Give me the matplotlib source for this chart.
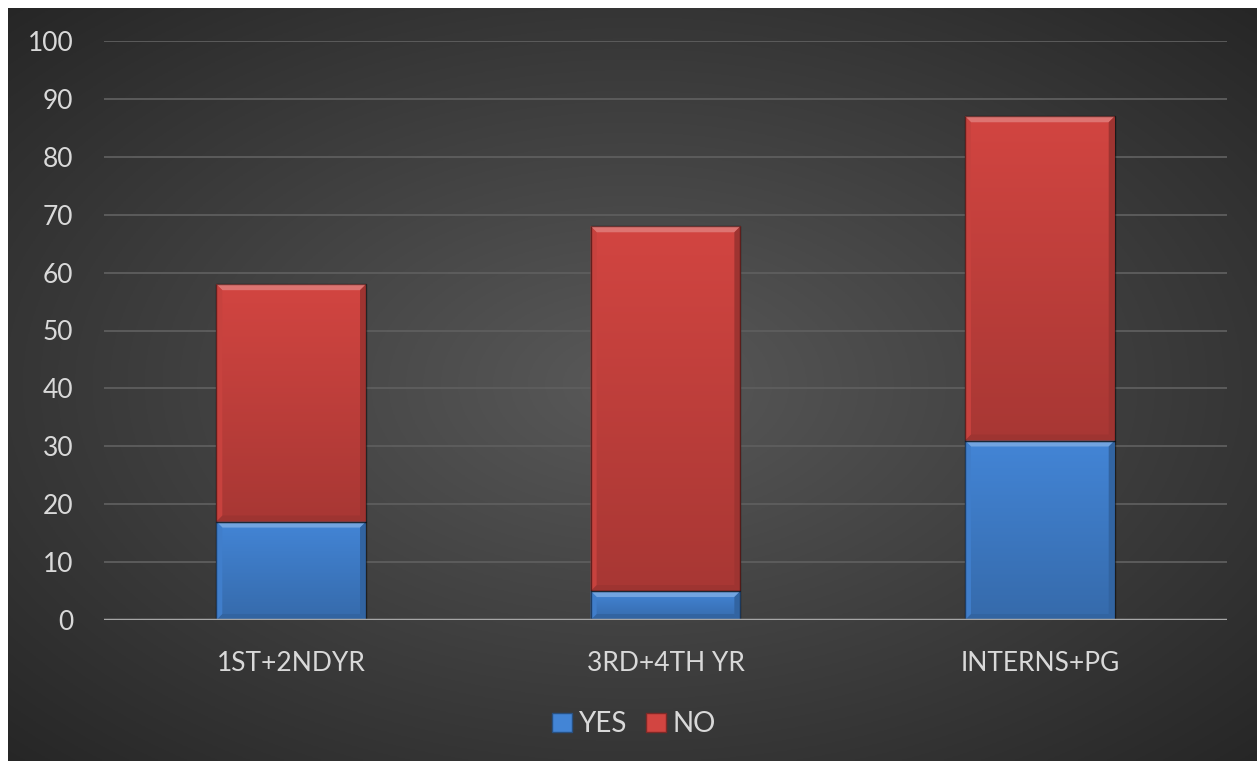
import numpy as np
import matplotlib
matplotlib.use("Agg")
import matplotlib.pyplot as plt
from matplotlib.patches import Polygon, Rectangle
from matplotlib.colors import to_rgb

# -----------------------------
# Data
# -----------------------------
categories = ["1ST+2NDYR", "3RD+4TH YR", "INTERNS+PG"]
yes_vals = [17, 5, 31]
no_vals = [41, 63, 56]
y_ticks = [0, 10, 20, 30, 40, 50, 60, 70, 80, 90, 100]

BLUE = "#4385d6"
RED = "#d24541"
TEXT = "#d9d9d9"
FONT = ["Lato", "DejaVu Sans"]

W, H, DPI = 1257, 761, 100
fig = plt.figure(figsize=(W / DPI, H / DPI), dpi=DPI)
fig.patch.set_facecolor("white")

# -----------------------------
# Radial dark background (white strip on top/left)
# -----------------------------
bg = fig.add_axes([8 / W, 0, 1 - 8 / W, 1 - 8 / H])
bg.set_axis_off()
yy, xx = np.mgrid[0:1:300j, 0:1:500j]
r = np.sqrt(((xx - 0.5) / 0.75) ** 2 + ((yy - 0.5) / 0.75) ** 2)
r = np.clip(r / 0.95, 0, 1)
inner = np.array(to_rgb("#595959"))
outer = np.array(to_rgb("#262626"))
img = inner[None, None, :] * (1 - r[..., None]) + outer[None, None, :] * r[..., None]
bg.imshow(img, aspect="auto", extent=[0, 1, 0, 1])

ax = fig.add_axes([104 / W, 141 / H, (1227 - 104) / W, (620 - 41) / H])
ax.set_facecolor("none")
x = np.arange(len(categories))
ax.set_xlim(-0.5, len(categories) - 0.5)
ax.set_ylim(0, 100)


def shade(c, f):
    c = np.array(to_rgb(c))
    if f > 0:
        return tuple(c + (1 - c) * f)
    return tuple(c * (1 + f))


def bevel_bar(patch, color):
    x0, y0 = patch.get_x(), patch.get_y()
    w, h = patch.get_width(), patch.get_height()
    patch.set_visible(False)
    # gradient fill, lighter on top
    top = np.array(shade(color, 0.0))
    bot = np.array(shade(color, -0.2))
    t = np.linspace(0, 1, 64)[:, None, None]
    grad = top[None, None, :] * (1 - t) + bot[None, None, :] * t
    grad = np.repeat(grad, 2, axis=1)
    ax.imshow(grad, aspect="auto", extent=[x0, x0 + w, y0, y0 + h],
              origin="upper", zorder=2, interpolation="bilinear")
    # bevel size ~6 px converted to data units
    bb = ax.get_window_extent()
    dx = 6 * (ax.get_xlim()[1] - ax.get_xlim()[0]) / bb.width
    dy = 6 * (ax.get_ylim()[1] - ax.get_ylim()[0]) / bb.height
    x1, y1 = x0 + w, y0 + h
    faces = [
        ([(x0, y1), (x1, y1), (x1 - dx, y1 - dy), (x0 + dx, y1 - dy)], shade(color, 0.25)),
        ([(x0, y0), (x1, y0), (x1 - dx, y0 + dy), (x0 + dx, y0 + dy)], shade(color, -0.25)),
        ([(x0, y0), (x0, y1), (x0 + dx, y1 - dy), (x0 + dx, y0 + dy)], shade(color, -0.05)),
        ([(x1, y0), (x1, y1), (x1 - dx, y1 - dy), (x1 - dx, y0 + dy)], shade(color, -0.25)),
    ]
    for pts, c in faces:
        ax.add_patch(Polygon(pts, closed=True, facecolor=c, edgecolor="none", zorder=3))
    ax.add_patch(Rectangle((x0, y0), w, h, facecolor="none",
                           edgecolor=(0, 0, 0, 0.5), lw=1.0, zorder=4))


bw = 0.4
yes_bars = ax.bar(x, yes_vals, bw, color=BLUE, label="YES")
no_bars = ax.bar(x, no_vals, bw, bottom=yes_vals, color=RED, label="NO")
for p in yes_bars:
    bevel_bar(p, BLUE)
for p in no_bars:
    bevel_bar(p, RED)

# grid and axes
ax.set_yticks(y_ticks)
for v in y_ticks[1:]:
    ax.axhline(v, color="#5e5e5e", lw=1.3, zorder=1)
ax.axhline(0, color="#a6a6a6", lw=2.5, zorder=5)
for s in ax.spines.values():
    s.set_visible(False)
ax.tick_params(length=0, colors=TEXT, labelsize=19, pad=22)
ax.tick_params(axis="y", pad=22)
ax.set_xticks(x)
ax.set_xticklabels(categories, family=FONT)
for lab in ax.get_yticklabels():
    lab.set_family(FONT)

# legend with small bevelled squares
handles = [Rectangle((0, 0), 1, 1, facecolor=BLUE, edgecolor=shade(BLUE, -0.4), lw=1),
           Rectangle((0, 0), 1, 1, facecolor=RED, edgecolor=shade(RED, -0.4), lw=1)]
leg = fig.legend(handles, ["YES", "NO"], loc="center", bbox_to_anchor=(634 / W, 1 - 724 / H),
                 ncol=2, frameon=False, handlelength=0.7, handleheight=0.7,
                 handletextpad=0.25, columnspacing=0.7, prop={"family": FONT, "size": 20})
for t in leg.get_texts():
    t.set_color(TEXT)

fig.savefig("out.png", dpi=DPI, facecolor=fig.get_facecolor())
